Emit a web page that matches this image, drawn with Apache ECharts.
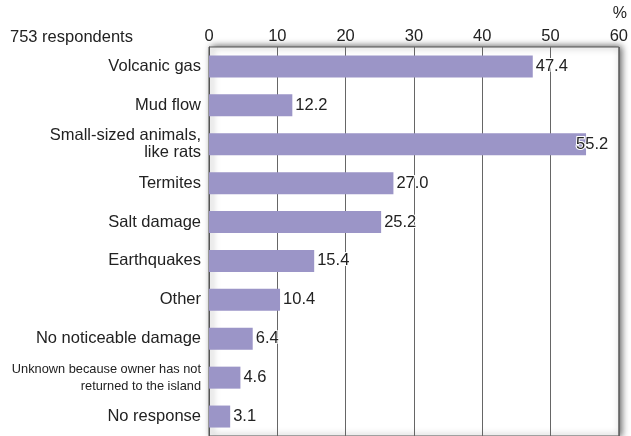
<!DOCTYPE html>
<html><head><meta charset="utf-8">
<script src="https://cdn.jsdelivr.net/npm/echarts@6/dist/echarts.min.js"></script>
<style>html,body{margin:0;padding:0;background:#fff}#c{width:631px;height:436px}</style>
</head><body><div id="c"></div>
<script>
const categories = ["Volcanic gas","Mud flow","Small-sized animals,\nlike rats","Termites","Salt damage","Earthquakes","Other","No noticeable damage","Unknown because owner has not\nreturned to the island","No response"];
const values = [47.4,12.2,55.2,27.0,25.2,15.4,10.4,6.4,4.6,3.1];
const xTicks = [0,10,20,30,40,50,60];
const FONT = '"Liberation Sans", Arial, Helvetica, sans-serif';
const chart = echarts.init(document.getElementById('c'), null, {renderer:'canvas'});
chart.setOption({
  animation:false,
  backgroundColor:'#fff',
  grid:{left:209,right:10,top:47,bottom:-2,show:true,backgroundColor:'#fff',borderColor:'#555',borderWidth:1,
        shadowColor:'rgba(0,0,0,0.7)',shadowBlur:7,shadowOffsetX:2.5,shadowOffsetY:0,containLabel:false},
  graphic:[
    {type:'text',left:10,top:29,style:{text:'753 respondents',font:'16.5px '+FONT,fill:'#222'}},
    {type:'text',right:4,top:6,style:{text:'%',font:'16px '+FONT,fill:'#222'}}
  ],
  xAxis:{type:'value',position:'top',min:xTicks[0],max:xTicks[xTicks.length-1],interval:10,
    axisLine:{show:false},axisTick:{show:false},
    axisLabel:{color:'#222',fontSize:16.5,fontFamily:FONT,margin:2},
    splitLine:{lineStyle:{color:'#666',width:1}}},
  yAxis:{type:'category',inverse:true,data:categories,
    axisLine:{show:true,lineStyle:{color:'#555'}},axisTick:{show:false},
    axisLabel:{color:'#222',fontSize:16.5,fontFamily:FONT,margin:8,lineHeight:17,
      formatter:function(v){ if(v.indexOf('Unknown')===0){return '{s|'+v.split('\n').join('}\n{s|')+'}';} return v;},
      rich:{s:{fontSize:12.8,fontFamily:FONT,color:'#222',lineHeight:17}}}},
  series:[{type:'bar',data:values.map(function(v,i){
      return v>52 ? {value:v,label:{offset:[-13,0]}} : v;}),
    barWidth:22,itemStyle:{color:'#9b95c7'},
    label:{show:true,position:'right',distance:3,color:'#222',fontSize:16.5,fontFamily:FONT,
      textBorderColor:'#fff',textBorderWidth:2,formatter:function(p){return p.value.toFixed(1);}}}]
});
</script></body></html>
